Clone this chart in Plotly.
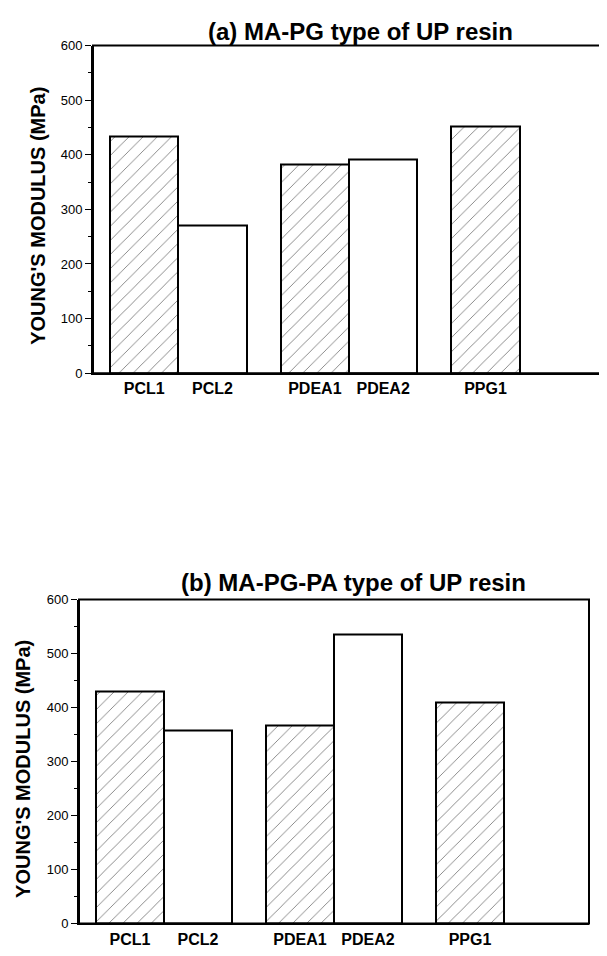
import plotly.graph_objects as go

# ---- data ----
labels = ["PCL1", "PCL2", "PDEA1", "PDEA2", "PPG1"]
positions = [1, 2, 3.5, 4.5, 6]          # grouped category slots
hatch = ["/", "", "/", "", "/"]
modulus_a = [433, 271, 382, 391, 451]     # (a) MA-PG type
modulus_b = [429, 358, 367, 535, 409]     # (b) MA-PG-PA type
y_ticks = [0, 100, 200, 300, 400, 500, 600]

# page has an 8px body margin, so the figure is drawn 8px smaller
OFF = 8
W, H = 607 - OFF, 956 - OFF
FONT = "Liberation Sans, Arial, sans-serif"

fig = go.Figure()

for vals, xa, ya in [(modulus_a, "x", "y"), (modulus_b, "x2", "y2")]:
    fig.add_trace(go.Bar(
        x=positions, y=vals, width=1.0, xaxis=xa, yaxis=ya,
        marker=dict(color="white",
                    line=dict(color="black", width=2),
                    pattern=dict(shape=hatch, fgcolor="black", bgcolor="white",
                                 size=10, solidity=0.09)),
        showlegend=False,
    ))

def px_x(p):
    return (p - OFF) / W

def px_y(p):
    return 1 - (p - OFF) / H

xcommon = dict(range=[0.25, 7.75], tickvals=positions, ticktext=labels,
               showgrid=False, zeroline=False, ticks="",
               showline=True, linecolor="black", linewidth=2,
               tickfont=dict(family=FONT, size=16, color="black", weight="bold"),
               ticklabelstandoff=0)
ycommon = dict(range=[0, 600], tickvals=y_ticks, showgrid=False, zeroline=False,
               ticks="outside", ticklen=6, tickwidth=1.2, tickcolor="black",
               minor=dict(dtick=50, ticks="outside", ticklen=3, tickcolor="black", tickwidth=1),
               showline=True, linecolor="black", linewidth=2,
               tickfont=dict(family=FONT, size=13, color="black"))

fig.update_layout(
    width=W, height=H,
    margin=dict(l=0, r=0, t=0, b=0),
    paper_bgcolor="white", plot_bgcolor="white",
    xaxis=dict(domain=[px_x(93), px_x(605)], anchor="y", **xcommon),
    yaxis=dict(domain=[px_y(372), px_y(39)], anchor="x", **ycommon),
    xaxis2=dict(domain=[px_x(79), px_x(589)], anchor="y2", **xcommon),
    yaxis2=dict(domain=[px_y(931), px_y(602)], anchor="x2", **ycommon),
    bargap=0,
)

# frame boxes
for xr, yr in [("x domain", "y domain"), ("x2 domain", "y2 domain")]:
    fig.add_shape(type="rect", xref=xr, yref=yr, x0=0, x1=1, y0=0, y1=1,
                  line=dict(color="black", width=2), fillcolor="rgba(0,0,0,0)",
                  layer="above")

annots = [
    dict(text="<b>(a) MA-PG type of UP resin</b>", x=px_x(360), y=px_y(25), size=24, angle=0),
    dict(text="<b>(b) MA-PG-PA type of UP resin</b>", x=px_x(353), y=px_y(585), size=24, angle=0),
    dict(text="<b>YOUNG'S MODULUS (MPa)</b>", x=px_x(38), y=px_y(212), size=20, angle=-90),
    dict(text="<b>YOUNG'S MODULUS (MPa)</b>", x=px_x(23), y=px_y(774), size=20, angle=-90),
]
for a in annots:
    fig.add_annotation(text=a["text"], x=a["x"], y=a["y"], xref="paper", yref="paper",
                       xanchor="center", yanchor="middle", showarrow=False,
                       textangle=a["angle"],
                       font=dict(family=FONT, size=a["size"], color="black"))

fig.write_html("out.html")
